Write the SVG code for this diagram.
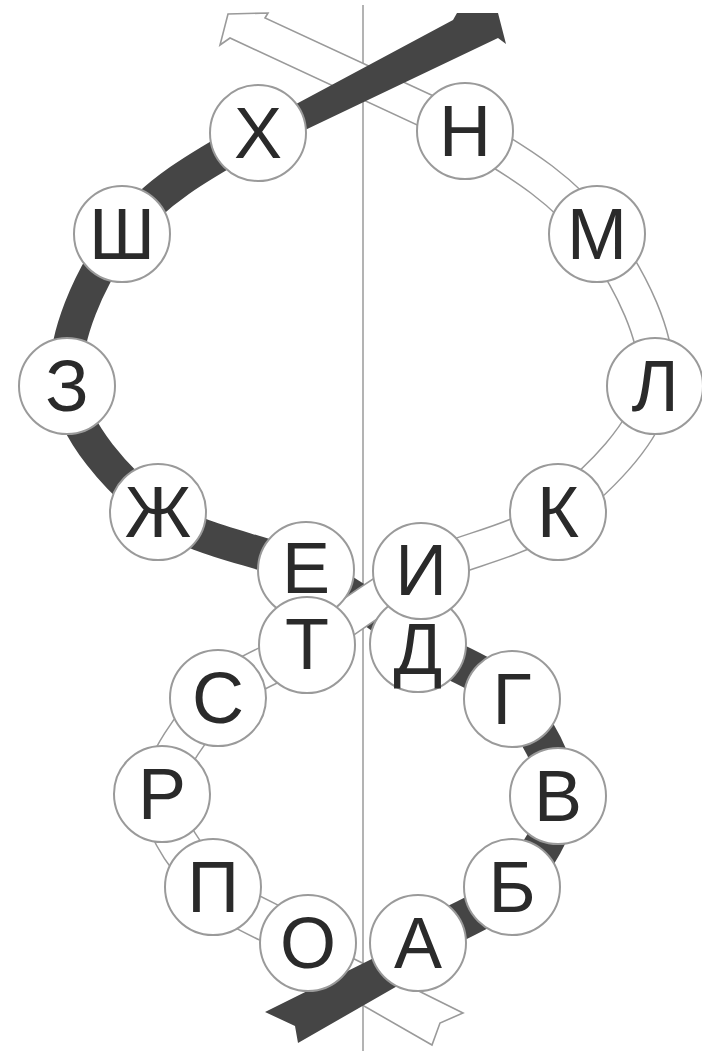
<svg xmlns="http://www.w3.org/2000/svg" width="702" height="1051" viewBox="0 0 702 1051">
<style>
.axis{stroke:#a0a0a0;stroke-width:1.6;fill:none}
.wo{fill:none;stroke:#9a9a9a;stroke-linecap:butt}
.wi{fill:none;stroke:#ffffff;stroke-linecap:butt}
.dk{fill:none;stroke:#454545;stroke-linecap:butt}
.wend{fill:#ffffff;stroke:#9a9a9a;stroke-width:1.6;stroke-linejoin:miter}
.dend{fill:#454545;stroke:none}
.node circle{fill:#ffffff;stroke:#9a9a9a;stroke-width:2}
.node text{font-family:"Liberation Sans",Arial,sans-serif;font-size:72px;fill:#2a2a2a;text-anchor:middle}
</style>
<line class="axis" x1="363" y1="5" x2="363" y2="1051"/>
<g id="connectors">
  <g id="white-band">
    <polygon class="wend" points="440,99 265,18 268,13 228,14 220,45 230,38 430,131"/>
    <polygon class="wend" points="320,942 463,1013 440,1023 432,1045 310,975"/>
    <path class="wo" stroke-width="36" d="M465,131 C525,165 565,192 597,234 M597,234 C629,277 662,340 655,386 M655,386 C649,432 597,481 558,512 M558,512 C519,543 463,549 421,571"/>
    <path class="wi" stroke-width="33" d="M465,131 C525,165 565,192 597,234 M597,234 C629,277 662,340 655,386 M655,386 C649,432 597,481 558,512 M558,512 C519,543 463,549 421,571"/>
    <path class="wo" stroke-width="41" d="M307,645 C273,666 242,673 218,698 M218,698 C194,723 163,763 162,794 M162,794 C161,826 189,862 213,887 M213,887 C237,912 269,920 308,943"/>
    <path class="wi" stroke-width="38" d="M307,645 C273,666 242,673 218,698 M218,698 C194,723 163,763 162,794 M162,794 C161,826 189,862 213,887 M213,887 C237,912 269,920 308,943"/>
  </g>
  <g id="dark-band">
    <polygon class="dend" points="270,118 453,20 457,13 498,13 506,44 498,38 282,141"/>
    <polygon class="dend" points="400,945 265,1012 295,1026 298,1043 420,973"/>
    <path class="dk" stroke-width="33" d="M258,133 C198,167 154,192 122,234 M122,234 C90,276 61,340 67,386 M67,386 C73,432 118,481 158,512 M158,512 C198,543 263,549 306,570"/>
    <path class="dk" stroke-width="34" d="M306,570 C349,591 384,619 418,643"/>
    <path class="dk" stroke-width="38" d="M418,643 C452,663 489,673 512,699 M512,699 C535,725 558,765 558,796 M558,796 C558,827 535,863 512,887 M512,887 C489,912 457,920 418,943"/>
  </g>
  <g id="white-cross">
    <path class="wo" stroke-width="37" d="M421,571 C379,593 341,624 307,645"/>
    <path class="wi" stroke-width="34" d="M421,571 C379,593 341,624 307,645"/>
  </g>
</g>
<g id="nodes">
  <g id="n-kh" class="node"><circle cx="258" cy="133" r="48"/><text x="258" y="158">Х</text></g>
  <g id="n-sh" class="node"><circle cx="122" cy="234" r="48"/><text x="122" y="259">Ш</text></g>
  <g id="n-z" class="node"><circle cx="67" cy="386" r="48"/><text x="67" y="411">З</text></g>
  <g id="n-zh" class="node"><circle cx="158" cy="512" r="48"/><text x="158" y="537">Ж</text></g>
  <g id="n-e" class="node"><circle cx="306" cy="570" r="48"/><text x="306" y="593">Е</text></g>
  <g id="n-d" class="node"><circle cx="418" cy="644" r="48"/><text x="418" y="674">Д</text></g>
  <g id="n-t" class="node"><circle cx="307" cy="645" r="48"/><text x="307" y="669">Т</text></g>
  <g id="n-i" class="node"><circle cx="421" cy="571" r="48"/><text x="421" y="595">И</text></g>
  <g id="n-n" class="node"><circle cx="465" cy="131" r="48"/><text x="465" y="156">Н</text></g>
  <g id="n-m" class="node"><circle cx="597" cy="234" r="48"/><text x="597" y="259">М</text></g>
  <g id="n-l" class="node"><circle cx="655" cy="386" r="48"/><text x="655" y="411">Л</text></g>
  <g id="n-k" class="node"><circle cx="558" cy="512" r="48"/><text x="558" y="537">К</text></g>
  <g id="n-g" class="node"><circle cx="512" cy="699" r="48"/><text x="512" y="724">Г</text></g>
  <g id="n-v" class="node"><circle cx="558" cy="796" r="48"/><text x="558" y="821">В</text></g>
  <g id="n-b" class="node"><circle cx="512" cy="887" r="48"/><text x="512" y="912">Б</text></g>
  <g id="n-a" class="node"><circle cx="418" cy="943" r="48"/><text x="418" y="968">А</text></g>
  <g id="n-o" class="node"><circle cx="308" cy="943" r="48"/><text x="308" y="968">О</text></g>
  <g id="n-p" class="node"><circle cx="213" cy="887" r="48"/><text x="213" y="912">П</text></g>
  <g id="n-r" class="node"><circle cx="162" cy="794" r="48"/><text x="162" y="819">Р</text></g>
  <g id="n-s" class="node"><circle cx="218" cy="698" r="48"/><text x="218" y="723">С</text></g>
</g>
</svg>
